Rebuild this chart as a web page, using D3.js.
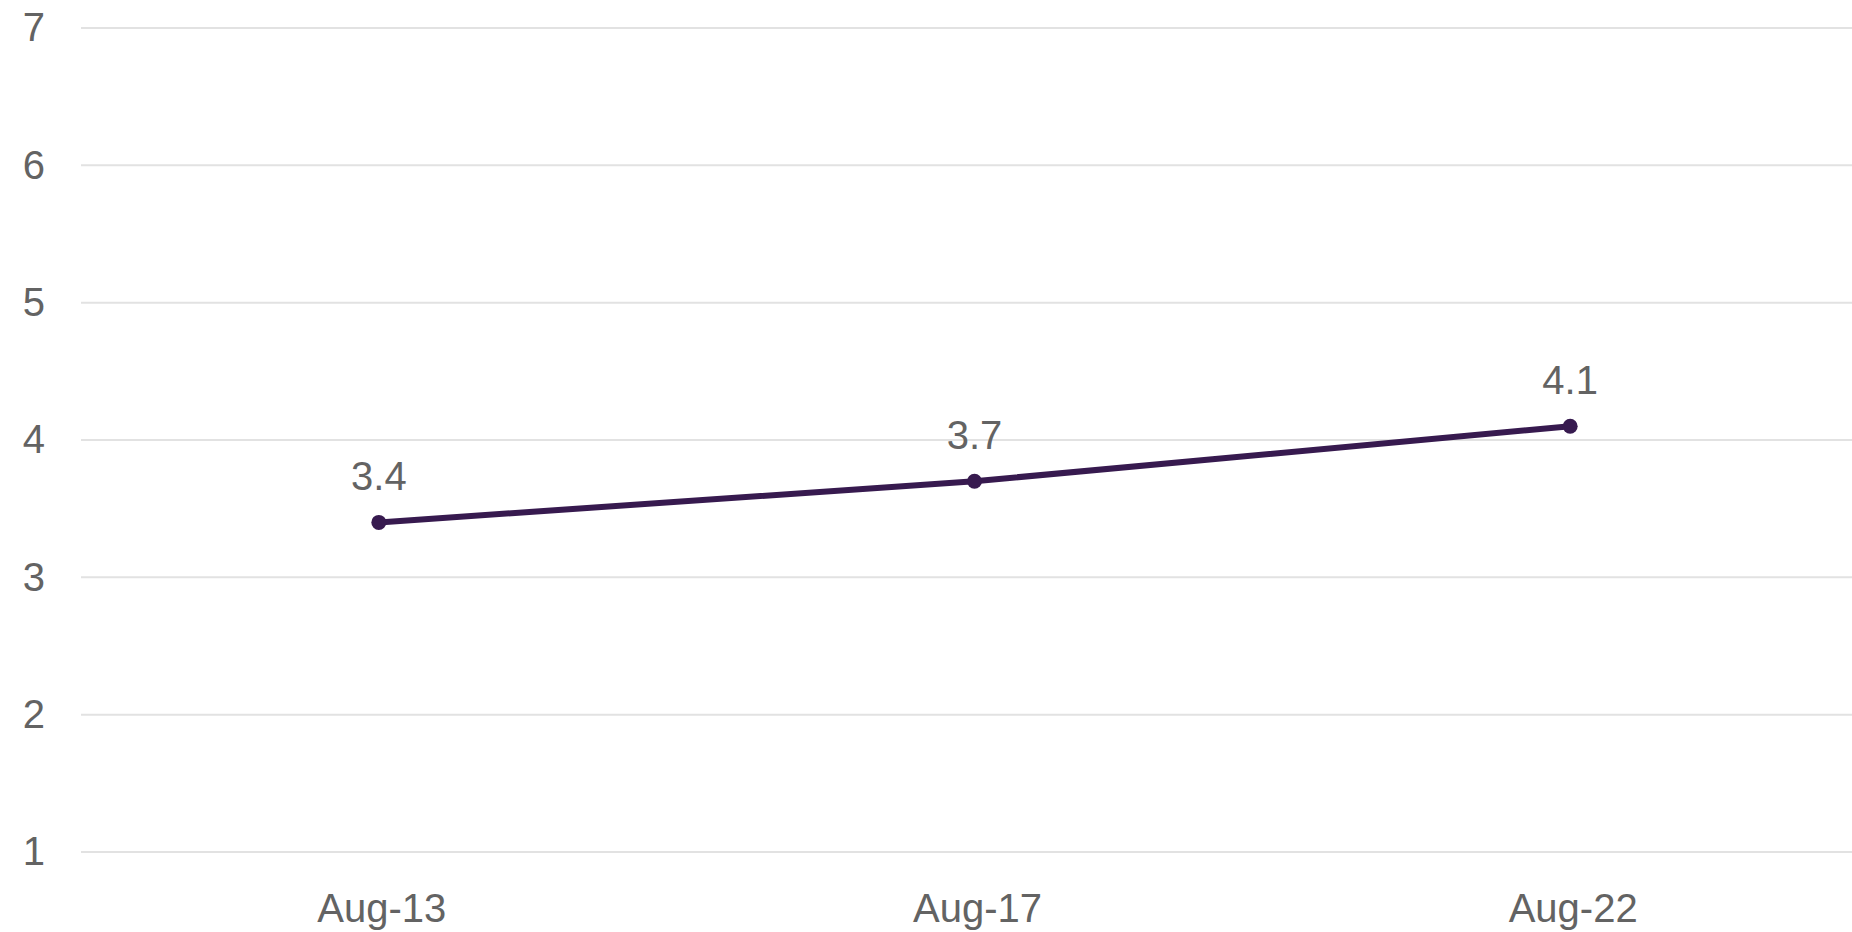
<!DOCTYPE html>
<html>
<head>
<meta charset="utf-8">
<script src="https://cdn.jsdelivr.net/npm/d3@7"></script>
<style>
  html, body { margin: 0; padding: 0; background: #ffffff; }
  svg { display: block; }
  text { font-family: "Liberation Sans", Arial, sans-serif; fill: #636363; }
</style>
</head>
<body>
<svg id="chart" width="1852" height="932"></svg>
<script>
// Survey periods and the measured value at each
const categories = ["Aug-13", "Aug-17", "Aug-22"];
const values = [3.4, 3.7, 4.1];
const yTicks = [1, 2, 3, 4, 5, 6, 7];

const width = 1852, height = 932;
const margin = { top: 28, right: -16, bottom: 80, left: 81 };
const fontSize = 40;
const textColor = "#636363";
const seriesColor = "#371a4f";

const svg = d3.select("#chart");

const x = d3.scaleBand()
  .domain(categories)
  .range([margin.left, width - margin.right])
  .padding(0);

const y = d3.scaleLinear()
  .domain([1, 7])
  .range([height - margin.bottom, margin.top]);

// Horizontal gridlines
svg.append("g")
  .selectAll("line")
  .data(yTicks)
  .join("line")
  .attr("x1", margin.left)
  .attr("x2", width)
  .attr("y1", d => y(d))
  .attr("y2", d => y(d))
  .attr("stroke", "#e2e2e2")
  .attr("stroke-width", 2);

// Y axis labels
const yAxis = d3.axisLeft(y)
  .tickValues(yTicks)
  .tickFormat(d3.format("d"))
  .tickSize(0)
  .tickPadding(0);
const gy = svg.append("g")
  .attr("transform", "translate(45,0)")
  .call(yAxis);
gy.select(".domain").remove();
gy.selectAll("text")
  .attr("font-size", fontSize)
  .attr("font-family", "Liberation Sans, Arial, sans-serif")
  .attr("fill", textColor);

// X axis labels
const xAxis = d3.axisBottom(x).tickSize(0).tickPadding(0);
const gx = svg.append("g")
  .attr("transform", `translate(3,${height - margin.bottom + 42})`)
  .call(xAxis);
gx.select(".domain").remove();
gx.selectAll("text")
  .attr("font-size", fontSize)
  .attr("font-family", "Liberation Sans, Arial, sans-serif")
  .attr("fill", textColor);

const pts = categories.map((c, i) => ({ c, v: values[i] }));
const cx = d => x(d.c) + x.bandwidth() / 2;

// Series line
const line = d3.line().x(cx).y(d => y(d.v));
svg.append("path")
  .datum(pts)
  .attr("d", line)
  .attr("fill", "none")
  .attr("stroke", seriesColor)
  .attr("stroke-width", 6)
  .attr("stroke-linejoin", "round");

// Markers
svg.append("g")
  .selectAll("circle")
  .data(pts)
  .join("circle")
  .attr("cx", cx)
  .attr("cy", d => y(d.v))
  .attr("r", 7.5)
  .attr("fill", seriesColor);

// Value labels
svg.append("g")
  .selectAll("text")
  .data(pts)
  .join("text")
  .attr("x", cx)
  .attr("y", d => y(d.v) - 32)
  .attr("text-anchor", "middle")
  .attr("font-size", fontSize)
  .attr("fill", textColor)
  .text(d => d3.format(".1f")(d.v));
</script>
</body>
</html>
